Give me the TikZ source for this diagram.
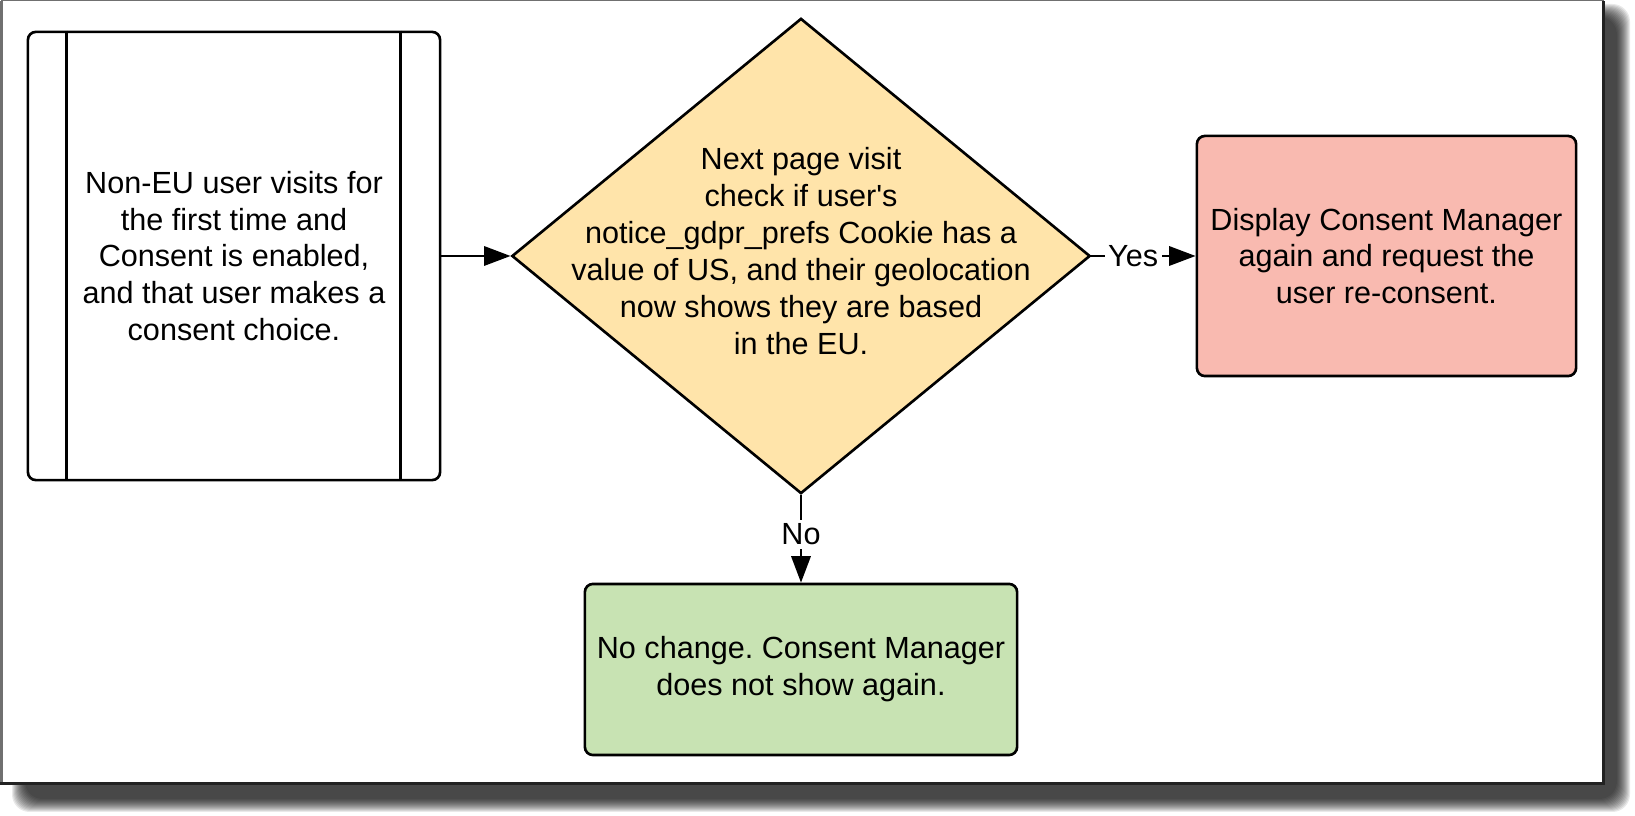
\documentclass[tikz,border=0pt]{standalone}
\usepackage{fontspec}
\setmainfont{Liberation Sans}
\usetikzlibrary{arrows.meta, shapes.geometric}
\definecolor{checkyellow}{RGB}{255,228,170}
\definecolor{yesred}{RGB}{249,186,176}
\definecolor{nogreen}{RGB}{200,227,179}
\definecolor{rimgray}{RGB}{112,112,112}
\definecolor{rimdark}{RGB}{34,34,34}
\frenchspacing

\begin{document}
\begin{tikzpicture}[x=0.01cm, y=-0.01cm, font=\fontsize{8.7}{10.5}\selectfont, line width=0.6pt]
	% Styles for the chart
	\tikzset{process/.style={draw, line width=0.75pt, rounded corners=2.3pt, minimum width=4.12cm, minimum height=4.48cm, align=center}}
	\tikzset{decision/.style={diamond, draw, line width=0.75pt, fill=checkyellow, minimum width=5.78cm, minimum height=4.75cm, inner sep=0pt}}
	\tikzset{outcome/.style={draw, line width=0.75pt, rounded corners=2.3pt, align=center}}
	\tikzset{flow/.style={-{Triangle[length=7.5pt, width=5.5pt]}}}
	\tikzset{choice/.style={fill=white, inner sep=1pt}}
	
	\useasboundingbox (0,0) rectangle (1635,816);
	
	% Drop shadow and frame
	\foreach \i in {0,...,13}
		\fill[black, opacity=0.085, rounded corners=5pt] (12+\i,4+\i) rectangle (1630-\i,812-\i);
	\fill[white] (1,1) rectangle (1604,784);
	\draw[rimgray, line width=0.85pt] (1.5,784) -- (1.5,0.7);
	\draw[rimgray, line width=0.45pt] (1.5,0.7) -- (1604,0.7);
	\draw[rimdark, line width=0.85pt] (0,783.5) -- (1603.5,783.5) -- (1603.5,0.7);
	
	% First visit
	\node[process] (visit) at (234,256) {Non-EU user visits for\\the first time and\\Consent is enabled,\\and that user makes a\\consent choice.};
	\draw[line width=0.75pt] ([xshift=0.4cm]visit.north west) -- ([xshift=0.4cm]visit.south west);
	\draw[line width=0.75pt] ([xshift=-0.41cm]visit.north east) -- ([xshift=-0.41cm]visit.south east);
	
	% Check on next visit
	\node[decision] (check) at (801,256) {};
	\node[align=center] (checktext) at (801,251) {Next page visit\\check if user\textquotesingle s\\notice\_gdpr\_prefs Cookie has a\\value of US, and their geolocation\\now shows they are based\\in the EU.};
	
	% Outcomes
	\node[outcome, fill=yesred, minimum width=3.79cm, minimum height=2.40cm] (reconsent) at (1386.5,256) {Display Consent Manager\\again and request the\\user re-consent.};
	\node[outcome, fill=nogreen, minimum width=4.32cm, minimum height=1.71cm] (nochange) at (801,669.5) {No change. Consent Manager\\does not show again.};
	
	% Connectors
	\draw[flow] (visit.east) -- (check.west);
	\draw[flow] (check.east) -- node[choice, pos=0.4] (yes) {Yes} (reconsent.west);
	\draw[flow] (check.south) -- node[choice, pos=0.45] (no) {No} (nochange.north);
\end{tikzpicture}
\end{document}
